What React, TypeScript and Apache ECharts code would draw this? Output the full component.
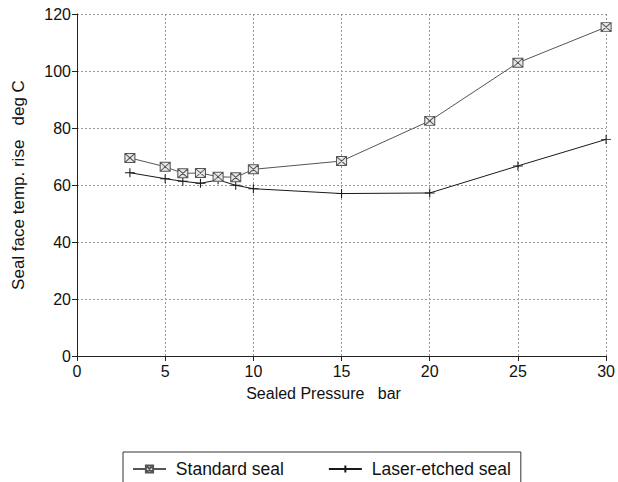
import React, { useEffect, useRef } from "react";
import * as echarts from "echarts";

const pressureStd = [3, 5, 6, 7, 8, 9, 10, 15, 20, 25, 30];
const standardSeal = [69.5, 66.4, 64.1, 64.2, 62.9, 62.7, 65.5, 68.4, 82.5, 102.9, 115.4];
const pressureLaser = [3, 5, 6, 7, 8, 9, 10, 15, 20, 25, 30];
const laserSeal = [64.3, 62.2, 61.3, 60.6, 61.8, 59.9, 58.7, 57.0, 57.2, 66.7, 76.0];

const FONT = "'Liberation Sans', Arial, sans-serif";
const SQUARE_X = "path://M0,0 L10,0 L10,10 L0,10 Z M0,0 L10,10 M10,0 L0,10";
const PLUS = "path://M5,0 L5,10 M0,5 L10,5";

export default function App() {
  const ref = useRef<HTMLDivElement>(null);
  useEffect(() => {
    if (!ref.current) return;
    const chart = echarts.init(ref.current, undefined, { renderer: "svg" });
    chart.setOption({
      animation: false,
      backgroundColor: "#fff",
      textStyle: { fontFamily: FONT },
      grid: { left: 77, right: 9, top: 14, bottom: 126 },
      legend: {
        left: 123,
        top: 452,
        itemGap: 44,
        itemWidth: 33,
        itemHeight: 9,
        padding: [8, 10, 20, 9],
        borderColor: "#333",
        borderWidth: 1,
        formatter: (n: string) => "\u00a0" + n,
        textStyle: { fontSize: 17.5, color: "#111", fontFamily: FONT },
        data: ["Standard seal", "Laser-etched seal"],
      },
      xAxis: {
        type: "value",
        min: 0,
        max: 30,
        interval: 5,
        name: "Sealed Pressure\u00a0\u00a0\u00a0bar",
        nameLocation: "middle",
        nameGap: 29,
        nameTextStyle: { fontSize: 16, color: "#111", fontFamily: FONT, padding: [0, 36, 0, 0] },
        axisLine: { onZero: false, lineStyle: { color: "#222", width: 1 } },
        axisTick: { show: true, length: 5, lineStyle: { color: "#222" } },
        axisLabel: { fontSize: 16, color: "#111", margin: 7, fontFamily: FONT },
        splitLine: { show: true, lineStyle: { color: "#999", type: [2, 2], width: 1 } },
      },
      yAxis: {
        type: "value",
        min: 0,
        max: 120,
        interval: 20,
        name: "Seal face temp. rise\u00a0\u00a0\u00a0deg C",
        nameLocation: "middle",
        nameGap: 50,
        nameTextStyle: { fontSize: 17, color: "#111", fontFamily: FONT },
        axisLine: { show: true, lineStyle: { color: "#222", width: 1 } },
        axisTick: { show: true, length: 5, lineStyle: { color: "#222" } },
        axisLabel: { fontSize: 16, color: "#111", margin: 6, fontFamily: FONT },
        splitLine: { show: true, lineStyle: { color: "#999", type: [2, 2], width: 1 } },
      },
      series: [
        {
          name: "Standard seal",
          type: "line",
          data: pressureStd.map((x, i) => [x, standardSeal[i]]),
          symbol: SQUARE_X,
          symbolSize: [10, 9],
          lineStyle: { color: "#555", width: 1 },
          itemStyle: { color: "#e8e8e8", borderColor: "#555", borderWidth: 1 },
          z: 3,
        },
        {
          name: "Laser-etched seal",
          type: "line",
          data: pressureLaser.map((x, i) => [x, laserSeal[i]]),
          symbol: PLUS,
          symbolSize: [10, 9],
          lineStyle: { color: "#1a1a1a", width: 1 },
          itemStyle: { color: "#1a1a1a", borderColor: "#1a1a1a", borderWidth: 1 },
          z: 2,
        },
      ],
    });
    return () => chart.dispose();
  }, []);
  return <div ref={ref} style={{ width: 618, height: 482, position: "absolute", left: 0, top: 0 }} />;
}
